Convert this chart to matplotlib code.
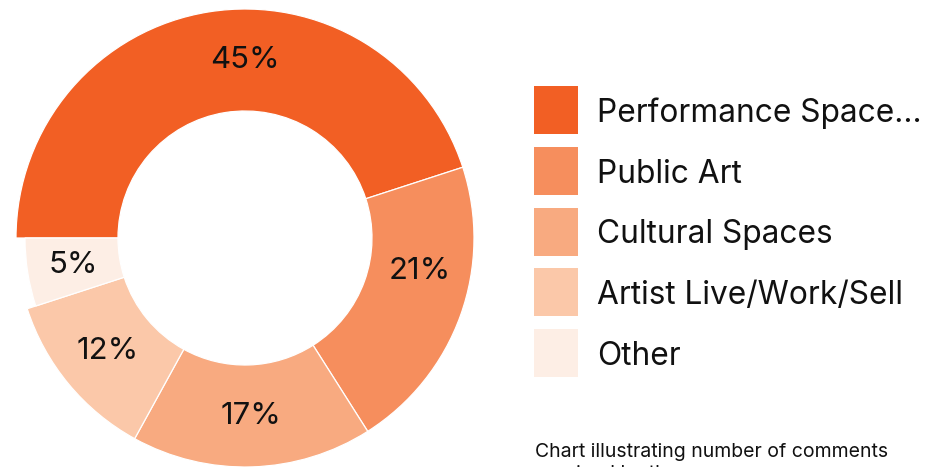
import matplotlib
matplotlib.use("Agg")
import matplotlib.pyplot as plt
from matplotlib.patches import Rectangle
import numpy as np

categories = ["Performance Space...", "Public Art", "Cultural Spaces", "Artist Live/Work/Sell", "Other"]
values = [45, 21, 17, 12, 5]
colors = ["#F25F24", "#F68E5D", "#F8AA80", "#FBC8A9", "#FDEEE5"]
note_lines = ["Chart illustrating number of comments", "received by theme"]
# small angular nudges (degrees, counter-clockwise) applied to the percentage labels
label_nudge = [-9, 9, 0, 0, 0]

FONT = "Inter"
W, H = 927, 467
fig = plt.figure(figsize=(W / 100, H / 100), dpi=100)

cx, cy, R = 245, 238, 229
ax = fig.add_axes([(cx - R) / W, (H - cy - R) / H, 2 * R / W, 2 * R / H])
inner = 127 / R
wedges, _ = ax.pie(values, colors=colors, startangle=180, counterclock=False,
                   radius=1.0,
                   wedgeprops=dict(width=1 - inner, edgecolor="white", linewidth=0.9))
# the "Other" slice is drawn slightly smaller in the reference
small_r = 220 / R
wedges[-1].set_radius(small_r)
wedges[-1].set_width(small_r - inner)

for w, v, nd in zip(wedges, values, label_nudge):
    mid = np.deg2rad((w.theta1 + w.theta2) / 2 + nd)
    rr = (w.r + (w.r - w.width)) / 2
    ax.text(rr * np.cos(mid), rr * np.sin(mid), f"{v}%", ha="center", va="center",
            fontsize=22.4, family=FONT, color="#111111")
ax.set_xlim(-1, 1)
ax.set_ylim(-1, 1)
ax.set_aspect("auto")
ax.axis("off")

# legend
sq_x, sq_w, sq_h = 534, 44, 48
top0, step = 86, 60.75
for i, (c, lab) in enumerate(zip(colors, categories)):
    y0 = top0 + i * step
    fig.patches.append(Rectangle((sq_x / W, 1 - (y0 + sq_h) / H), sq_w / W, sq_h / H,
                                 transform=fig.transFigure, facecolor=c, edgecolor="none"))
    fig.text(597 / W, 1 - (y0 + sq_h / 2) / H, lab, ha="left", va="center_baseline",
             fontsize=22.8, family=FONT, color="#111111")

for j, line in enumerate(note_lines):
    fig.text(535 / W, 1 - (457 + j * 22) / H, line, ha="left", va="baseline",
             fontsize=14, family=FONT, color="#111111")

fig.savefig("out.png", dpi=100, facecolor="white")
